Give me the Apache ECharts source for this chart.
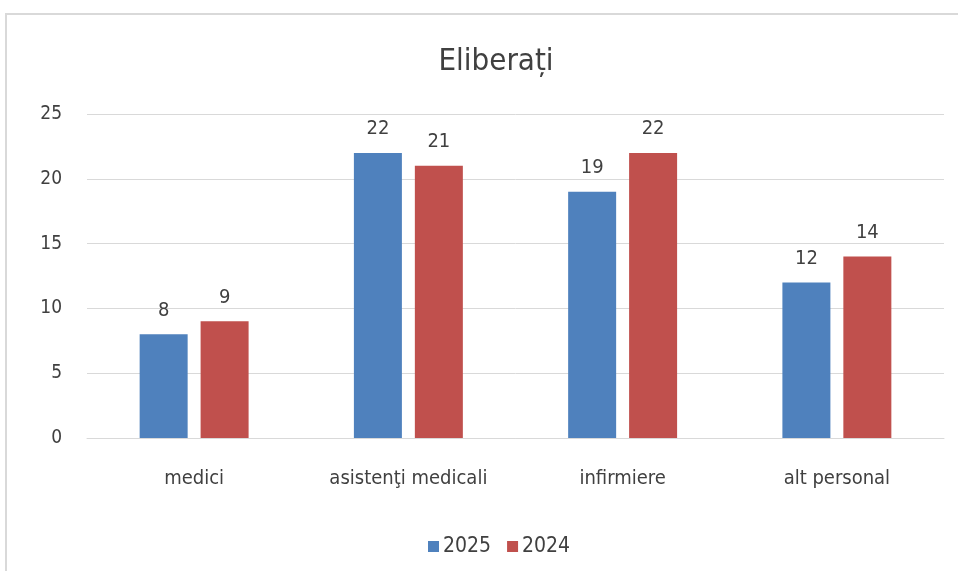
<!DOCTYPE html>
<html>
<head>
<meta charset="utf-8">
<script src="https://cdn.jsdelivr.net/npm/echarts@6/dist/echarts.min.js"></script>
<style>
    html, body { margin: 0; padding: 0; background: #fff; }
    #chart { width: 958px; height: 571px; }
</style>
</head>
<body>
<div id="chart"></div>
<script>
    // chart data
    var categories = ['medici', 'asistenţi medicali', 'infirmiere', 'alt personal'];
    var seriesNames = ['2025', '2024'];
    var values2025 = [8, 22, 19, 12];
    var values2024 = [9, 21, 22, 14];
    var yTicks = [0, 5, 10, 15, 20, 25];

    var font = '"Liberation Sans Narrow", "DejaVu Sans Condensed", sans-serif';
    var myChart = echarts.init(document.getElementById('chart'));

    var labelStyle = {
        show: true,
        position: 'top',
        distance: 14,
        color: '#404040',
        fontSize: 20,
        fontFamily: font
    };

    var option = {
        animation: false,
        backgroundColor: '#fff',
        // frame around the chart
        graphic: [{
            type: 'polyline',
            shape: { points: [[6, 600], [6, 14], [960, 14]] },
            style: { stroke: '#d9d9d9', lineWidth: 2, fill: null },
            silent: true
        }],
        title: {
            text: 'Eliberați',
            left: 491,
            textAlign: 'center',
            top: 41,
            textStyle: { fontSize: 31, fontWeight: 'normal', color: '#404040', fontFamily: font }
        },
        legend: {
            data: seriesNames,
            left: 423,
            top: 531,
            itemWidth: 11,
            itemHeight: 11,
            itemGap: 16,
            icon: 'rect',
            textStyle: { fontSize: 21, color: '#404040', fontFamily: font, padding: [0, 0, 0, -1] }
        },
        grid: {
            left: 87,
            right: 14,
            top: 114,
            bottom: 133,
            containLabel: false
        },
        xAxis: {
            type: 'category',
            data: categories,
            axisLine: { show: true, lineStyle: { color: '#d9d9d9', width: 1 } },
            axisTick: { show: false },
            axisLabel: { color: '#404040', fontSize: 20, margin: 31, fontFamily: font }
        },
        yAxis: {
            type: 'value',
            min: yTicks[0],
            max: yTicks[yTicks.length - 1],
            interval: 5,
            axisLine: { show: false },
            axisTick: { show: false },
            axisLabel: { color: '#404040', fontSize: 19, margin: 25, fontFamily: font },
            splitLine: { lineStyle: { color: '#d9d9d9', width: 1 } }
        },
        series: [
            {
                name: seriesNames[0],
                type: 'bar',
                data: values2025,
                barWidth: 48,
                barGap: '27%',
                itemStyle: { color: '#4f81bd' },
                label: labelStyle
            },
            {
                name: seriesNames[1],
                type: 'bar',
                data: values2024,
                barWidth: 48,
                itemStyle: { color: '#c0504d' },
                label: labelStyle
            }
        ]
    };
    myChart.setOption(option);
</script>
</body>
</html>
